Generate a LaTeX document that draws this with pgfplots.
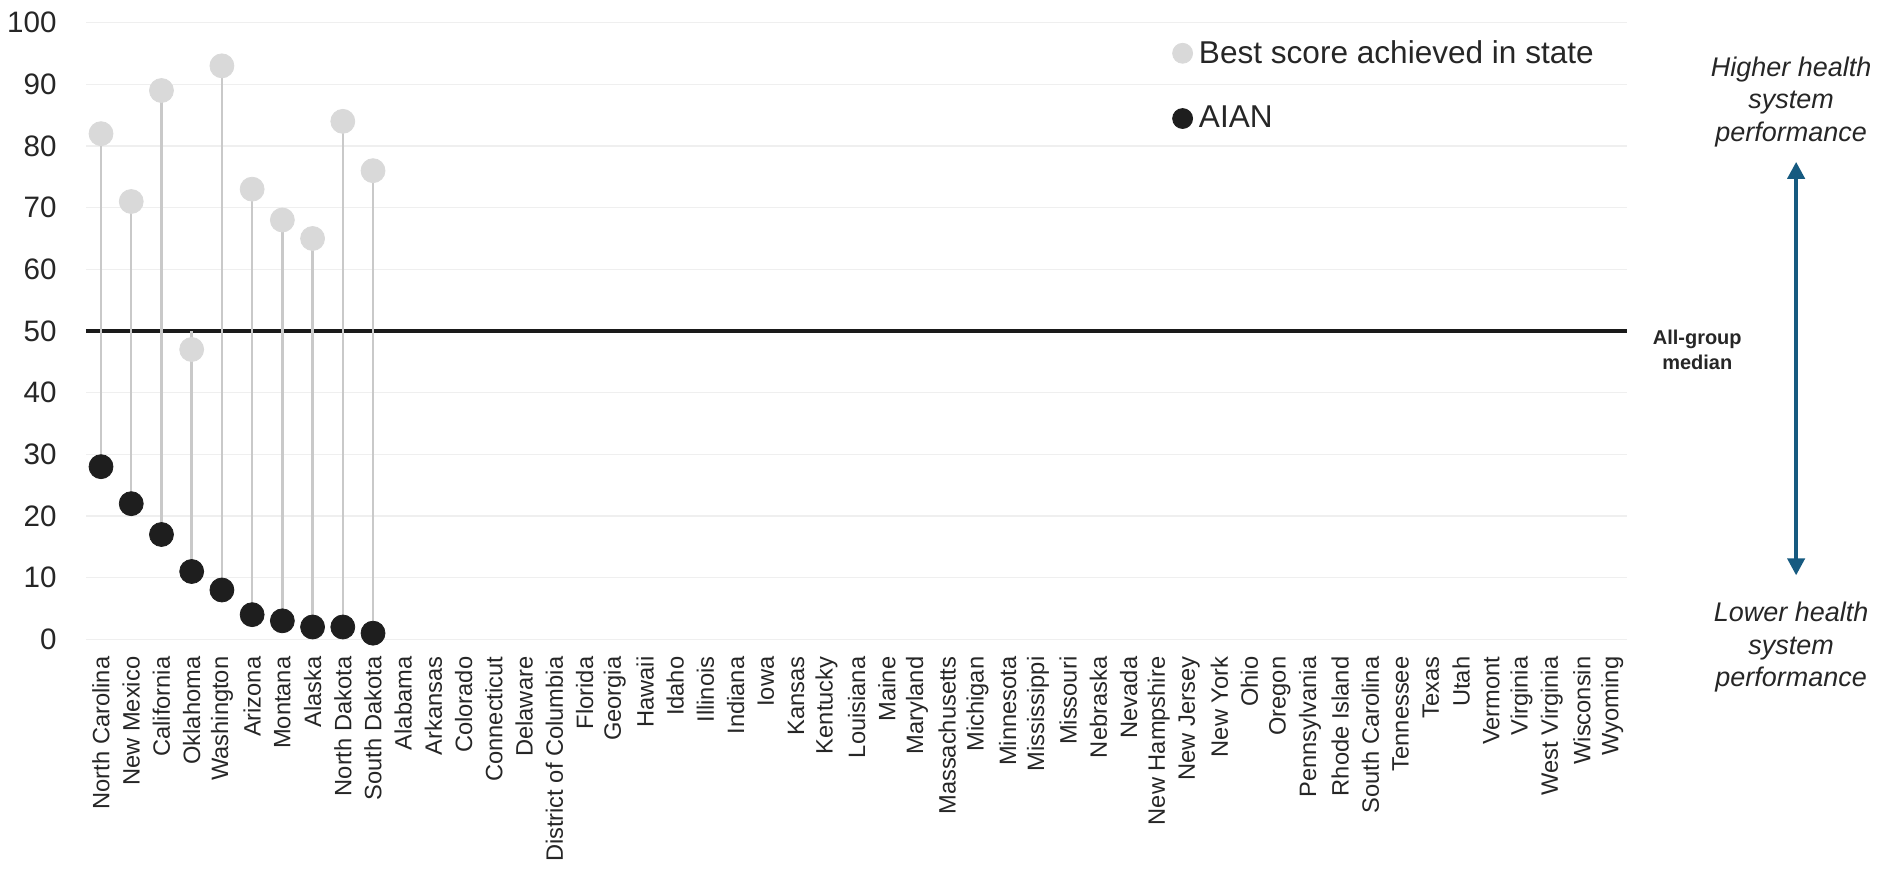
\documentclass[border=0pt]{standalone}
\usepackage{fontspec}
\setmainfont{Liberation Sans}
\usepackage{pgfplots}
\usepackage{pgfplotstable}
\pgfplotsset{compat=1.18}
\usetikzlibrary{arrows.meta}

\definecolor{gridc}{HTML}{EFEFEF}
\definecolor{stemc}{HTML}{C9C9C9}
\definecolor{bestc}{HTML}{D9D9D9}
\definecolor{aianc}{HTML}{1E1E1E}
\definecolor{medc}{HTML}{1A1A1A}
\definecolor{arrowc}{HTML}{165A80}
\definecolor{txt}{HTML}{262626}

% x = state position, top = end of the grey stem
\pgfplotstableread{
x best aian top
0 82 28 82
1 71 22 71
2 89 17 89
3 47 11 50
4 93 8 93
5 73 4 73
6 68 3 68
7 65 2 65
8 84 2 84
9 76 1 76
}\scores

\begin{document}
\begin{tikzpicture}
\begin{axis}[
    scale only axis,
    width=771.5pt,
    height=308.65pt,
    xmin=-0.5, xmax=50.5,
    ymin=0, ymax=100,
    ytick={0,10,...,100},
    xtick={0,...,50},
    xticklabels={North Carolina,New Mexico,California,Oklahoma,Washington,Arizona,Montana,Alaska,North Dakota,South Dakota,Alabama,Arkansas,Colorado,Connecticut,Delaware,District of Columbia,Florida,Georgia,Hawaii,Idaho,Illinois,Indiana,Iowa,Kansas,Kentucky,Louisiana,Maine,Maryland,Massachusetts,Michigan,Minnesota,Mississippi,Missouri,Nebraska,Nevada,New Hampshire,New Jersey,New York,Ohio,Oregon,Pennsylvania,Rhode Island,South Carolina,Tennessee,Texas,Utah,Vermont,Virginia,West Virginia,Wisconsin,Wyoming},
    axis line style={draw=none},
    major tick length=0pt,
    ymajorgrids,
    grid style={gridc, line width=0.7pt},
    /pgf/number format/assume math mode=true,
    yticklabel style={font=\fontsize{14.8}{17}\selectfont, text=txt, inner sep=0pt, xshift=-14.5pt},
    xticklabel style={font=\fontsize{11.85}{14}\selectfont, text=txt, inner sep=0pt, yshift=-8.5pt, rotate=90, anchor=east},
    legend style={draw=none, fill=none, at={(0.7045,0.972)}, anchor=north west,
        font=\fontsize{15.8}{18}\selectfont, text=txt, row sep=20pt,
        inner sep=0pt, nodes={inner sep=0pt, outer sep=0pt}},
    legend cell align=left,
    clip=false,
]
% all-group median
\addplot[medc, line width=2.5pt, forget plot] coordinates {(-0.5,50) (50.5,50)};
% stems
\addplot[draw=none, mark=none, forget plot,
    error bars/.cd, y dir=plus, y explicit, error mark=none,
    error bar style={stemc, line width=1.2pt}]
    table[x=x, y=aian, y error plus expr=\thisrow{top}-\thisrow{aian}] {\scores};
\addplot[only marks, mark=*, mark size=6pt, color=bestc,
    legend image code/.code={\fill[bestc] (5pt,0pt) circle (5pt); \path (13pt,0pt);}]
    table[x=x, y=best] {\scores};
\addlegendentry{Best score achieved in state}
\addplot[only marks, mark=*, mark size=6pt, color=aianc,
    legend image code/.code={\fill[aianc] (5pt,0pt) circle (5pt); \path (13pt,0pt);}]
    table[x=x, y=aian] {\scores};
\addlegendentry{AIAN}
\end{axis}

\node[align=center, text=txt, font=\fontsize{10}{12.5}\selectfont\bfseries] at (806.5pt,144.75pt) {All-group\\median};
\node[align=center, text=txt, font=\fontsize{13.5}{16.25}\selectfont\itshape] at (853.5pt,269pt) {Higher health\\system\\performance};
\node[align=center, text=txt, font=\fontsize{13.5}{16.25}\selectfont\itshape] at (853.5pt,-4pt) {Lower health\\system\\performance};
\draw[arrowc, line width=2pt, {Triangle[width=8.5pt,length=8.5pt]}-{Triangle[width=8.5pt,length=8.5pt]}] (856pt,32pt) -- (856pt,239pt);

% page frame, matching the reference's margins
\path (-43pt,-116pt) rectangle (896pt,320pt);
\end{tikzpicture}
\end{document}
